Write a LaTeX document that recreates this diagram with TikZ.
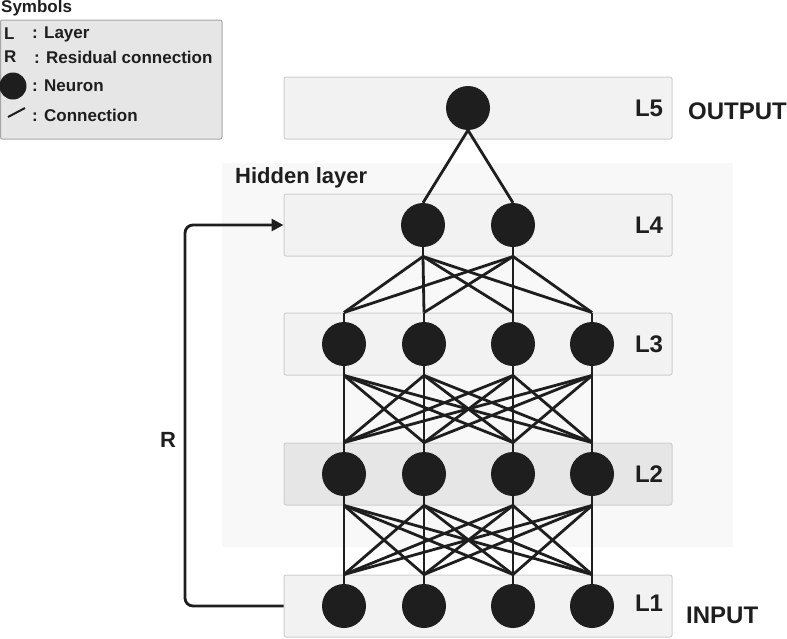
\documentclass[tikz,border=0pt]{standalone}
\usepackage{fontspec}
\setmainfont{Liberation Sans}
\usetikzlibrary{arrows.meta}
\definecolor{ink}{HTML}{1E1E1E}
\definecolor{boxgray}{HTML}{F2F2F2}
\definecolor{darkbox}{HTML}{E6E6E6}
\definecolor{edgegray}{HTML}{CFCFCF}
\definecolor{hidgray}{HTML}{F8F8F8}

\begin{document}
\begin{tikzpicture}[x=1pt,y=-1pt,
	layer/.style={draw=edgegray,fill=boxgray,line width=1pt,rounded corners=2pt,minimum width=388pt,minimum height=62pt},
	neuron/.style={circle,fill=ink,minimum size=44pt,inner sep=0pt},
	tag/.style={font=\bfseries\fontsize{24}{26}\selectfont,text=ink,inner sep=0pt},
	sym/.style={font=\bfseries\fontsize{17}{19}\selectfont,text=ink,anchor=west,inner sep=0pt},
	link/.style={draw=ink,line width=2.8pt}]
	\useasboundingbox (0,0) rectangle (787,638);
	% legend
	\node[sym] (symtitle) at (1,8) {Symbols};
	\draw[draw=edgegray!80!black,fill=darkbox,line width=1pt,rounded corners=2pt] (0.5,20) rectangle (222,139);
	\node[sym] (keyL) at (4,34) {L};
	\node[sym] (txtL) at (32,34) {: Layer};
	\node[sym] (keyR) at (4,57) {R};
	\node[sym] (txtR) at (34,57) {: Residual connection};
	\node[neuron,minimum size=27pt] (keyN) at (13,86) {};
	\node[sym] (txtN) at (32,86) {: Neuron};
	\draw[link,line width=2pt] (8,117) -- (25,108);
	\node[sym] (txtC) at (32,115) {: Connection};
	% hidden layer
	\fill[hidgray] (222,163) rectangle (733,547);
	\node[tag,anchor=west,font=\bfseries\fontsize{22}{24}\selectfont] (hidden) at (235,178) {Hidden layer};
	% layers
	\node[layer] (l5) at (478,108) {};
	\node[layer] (l4) at (478,225) {};
	\node[layer] (l3) at (478,344) {};
	\node[layer,fill=darkbox] (l2) at (478,474) {};
	\node[layer] (l1) at (478,606) {};
	\node[tag] (t5) at (649,108) {L5};
	\node[tag] (t4) at (649,225) {L4};
	\node[tag] (t3) at (649,344) {L3};
	\node[tag] (t2) at (649,474) {L2};
	\node[tag] (t1) at (649,603) {L1};
	\node[tag,anchor=west] (out) at (688,111) {OUTPUT};
	\node[tag,anchor=west] (in) at (686,615) {INPUT};
	% neurons
	\node[neuron] (n51) at (468,108) {};
	\node[neuron] (n41) at (423,225) {};
	\node[neuron] (n42) at (513,225) {};
	\foreach \i/\x in {1/344,2/424,3/513,4/592} {
		\node[neuron] (n3\i) at (\x,344) {};
		\node[neuron] (n2\i) at (\x,474) {};
		\node[neuron] (n1\i) at (\x,606) {};
	}
	% connections
	\foreach \j in {1,2} {
		\draw[link] (n51.south) -- (n4\j.north);
		\draw[link] (n4\j.south) -- (n4\j.south |- l4.south);
	}
	\foreach \i in {1,...,4} {
		\draw[link] (n3\i.north) -- (n3\i.north |- l3.north);
		\draw[link] (n3\i.south) -- (n3\i.south |- l3.south);
		\draw[link] (n2\i.north) -- (n2\i.north |- l2.north);
		\draw[link] (n2\i.south) -- (n2\i.south |- l2.south);
		\draw[link] (n1\i.north) -- (n1\i.north |- l1.north);
		\foreach \j in {1,2}
			\draw[link] (n4\j.south |- l4.south) -- (n3\i.north |- l3.north);
		\foreach \j in {1,...,4} {
			\draw[link] (n3\j.south |- l3.south) -- (n2\i.north |- l2.north);
			\draw[link] (n2\j.south |- l2.south) -- (n1\i.north |- l1.north);
		}
	}
	% residual connection
	\draw[link,rounded corners=8pt,-{Triangle[length=12pt,width=12pt]}] (l1.west) -- (185,606) -- (185,225) -- (l4.west);
	\node[tag,font=\bfseries\fontsize{22}{24}\selectfont] (res) at (168,440) {R};
\end{tikzpicture}
\end{document}
